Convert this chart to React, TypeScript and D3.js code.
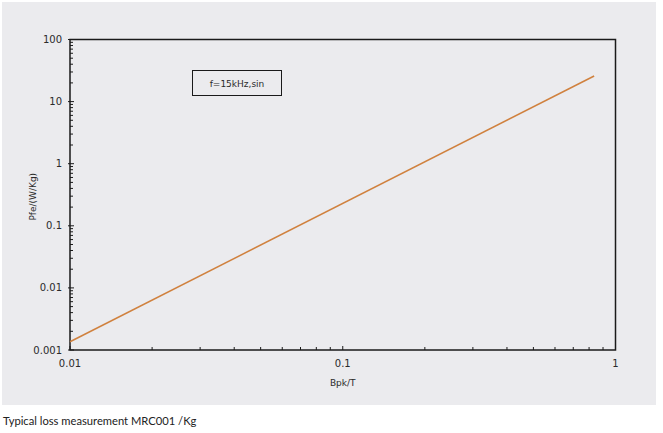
import React from "react";
import * as d3 from "d3";

const bpk: number[] = [0.01, 0.835];
const pfe: number[] = [0.00136, 25.8];
const xTickLabels: number[] = [0.01, 0.1, 1];
const yTickLabels: number[] = [0.001, 0.01, 0.1, 1, 10, 100];
const annotation = "f=15kHz,sin";
const xTitle = "Bpk/T";
const yTitle = "Pfe/(W/Kg)";
const caption = "Typical loss measurement MRC001 /Kg";

const W = 663, H = 433;
const L = 70, R = 615.5, T = 39.5, B = 350;

export default function App() {
  const x = d3.scaleLog().domain([0.01, 1]).range([L, R]);
  const y = d3.scaleLog().domain([0.001, 100]).range([B, T]);
  const line = d3.line<number>().x((_, i) => x(bpk[i])).y((d) => y(d));

  const minorX: number[] = [];
  for (let e = -2; e < 0; e++) for (let k = 2; k <= 9; k++) minorX.push(k * Math.pow(10, e));
  const minorY: number[] = [];
  for (let e = -3; e < 2; e++) for (let k = 2; k <= 9; k++) minorY.push(k * Math.pow(10, e));

  const fmt = (v: number) => String(+v.toPrecision(3));
  const font = "DejaVu Sans, Verdana, sans-serif";
  const tc = "#2a2a2a";

  return (
    <svg width={W} height={H} style={{ position: "absolute", left: 0, top: 0, background: "#fff" }}>
      <rect x={2} y={2} width={654} height={403} fill="#ebebee" />
      <rect x={L} y={T} width={R - L} height={B - T} fill="none" stroke="#1a1a1a" strokeWidth={1.5} />
      {minorX.map((v, i) => (
        <line key={"mx" + i} x1={x(v)} x2={x(v)} y1={B} y2={B - 3} stroke="#1a1a1a" strokeWidth={1} />
      ))}
      {xTickLabels.map((v, i) => (
        <g key={"x" + i}>
          <line x1={x(v)} x2={x(v)} y1={B} y2={B - 4} stroke="#1a1a1a" strokeWidth={1} />
          <text x={x(v)} y={B + 17} textAnchor="middle" fontFamily={font} fontSize={10} fill={tc}>{fmt(v)}</text>
        </g>
      ))}
      {minorY.map((v, i) => (
        <line key={"my" + i} x1={L} x2={L + 3} y1={y(v)} y2={y(v)} stroke="#1a1a1a" strokeWidth={1} />
      ))}
      {yTickLabels.map((v, i) => (
        <g key={"y" + i}>
          <line x1={L - 2} x2={L + 4} y1={y(v)} y2={y(v)} stroke="#1a1a1a" strokeWidth={1} />
          <text x={L - 8} y={y(v) + 3.5} textAnchor="end" fontFamily={font} fontSize={10} fill={tc}>{fmt(v)}</text>
        </g>
      ))}
      <path d={line(pfe) || ""} fill="none" stroke="#d0813e" strokeWidth={1.5} />
      <rect x={192.5} y={70.5} width={89} height={25} fill="none" stroke="#1a1a1a" strokeWidth={1} />
      <text x={237} y={86.5} textAnchor="middle" fontFamily={font} fontSize={9} fill={tc}>{annotation}</text>
      <text x={x(0.1)} y={386} textAnchor="middle" fontFamily={font} fontSize={9} fill={tc}>{xTitle}</text>
      <text transform={`translate(36,${(T + B) / 2 + 2}) rotate(-90)`} textAnchor="middle" fontFamily={font} fontSize={9} fill={tc}>{yTitle}</text>
      <text x={3} y={425} fontFamily="Lato, 'Open Sans', sans-serif" fontSize={11.2} fill="#222">{caption}</text>
    </svg>
  );
}
